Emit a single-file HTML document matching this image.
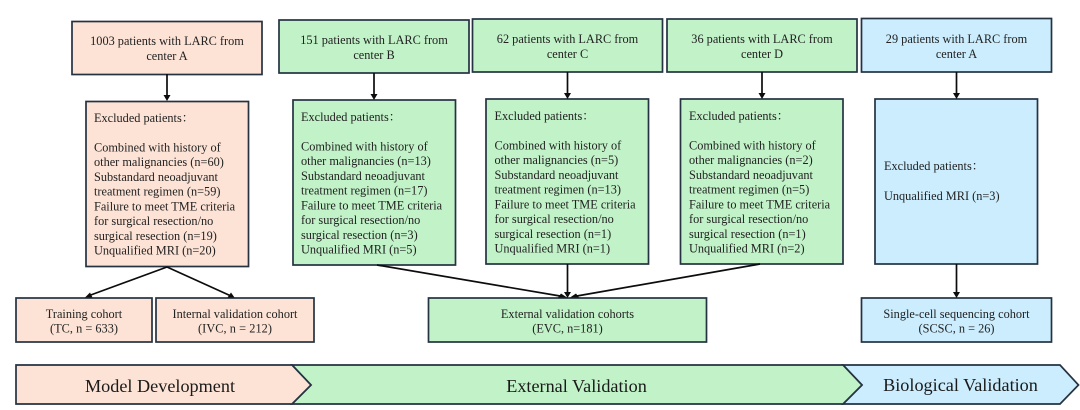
<!DOCTYPE html>
<html>
<head>
<meta charset="utf-8">
<style>
html,body{margin:0;padding:0;background:#fff;width:1080px;height:410px;overflow:hidden}
svg{display:block;filter:blur(0.35px)}
text{font-family:"Liberation Serif","Noto Serif CJK SC",serif;font-size:12.3px;fill:#222}
.m{text-anchor:middle}
.big{font-size:18.2px;fill:#1a1a1a;text-anchor:middle}
.o{fill:#fde3d6}.g{fill:#c2f2c8}.b{fill:#cbedfd}
rect,polygon.s{stroke:#243242;stroke-width:1.7}
line{stroke:#0c0c0c;stroke-width:1.7}
polygon.a{fill:#0c0c0c}
</style>
</head>
<body>
<svg width="1080" height="410" viewBox="0 0 1080 410" xmlns="http://www.w3.org/2000/svg">
<rect width="1080" height="410" style="fill:#fff;stroke:none"/>

<!-- top boxes -->
<rect class="o" x="72" y="21.500" width="190" height="53"/>
<rect class="g" x="279" y="20" width="190" height="53"/>
<rect class="g" x="472.500" y="19" width="190" height="53"/>
<rect class="g" x="667" y="19" width="190" height="53"/>
<rect class="b" x="861.500" y="18.500" width="190" height="53.500"/>

<!-- excluded boxes -->
<rect class="o" x="86" y="101.500" width="162.500" height="165"/>
<rect class="g" x="293" y="100" width="162.500" height="165"/>
<rect class="g" x="486" y="99" width="162.500" height="165"/>
<rect class="g" x="680.500" y="99" width="162.500" height="165"/>
<rect class="b" x="875" y="99" width="162.500" height="165"/>

<!-- cohort boxes -->
<rect class="o" x="16" y="298" width="136" height="44"/>
<rect class="o" x="156" y="298" width="158" height="44"/>
<rect class="g" x="428.500" y="298" width="278" height="44"/>
<rect class="b" x="861.500" y="298" width="190" height="44"/>

<!-- connectors -->
<line x1="167" y1="74" x2="167" y2="95"/><polygon class="a" points="163.500,95 170.500,95 167,101"/>
<line x1="374" y1="73" x2="374" y2="94"/><polygon class="a" points="370.500,94 377.500,94 374,100"/>
<line x1="567.500" y1="72" x2="567.500" y2="93"/><polygon class="a" points="564,93 571,93 567.500,99"/>
<line x1="762" y1="72" x2="762" y2="93"/><polygon class="a" points="758.500,93 765.500,93 762,99"/>
<line x1="956.500" y1="72" x2="956.500" y2="93"/><polygon class="a" points="953,93 960,93 956.500,99"/>

<line x1="167" y1="267" x2="88" y2="296"/><polygon class="a" points="85,297.500 90,292.500 92.500,297.500"/>
<line x1="167" y1="267" x2="231" y2="296"/><polygon class="a" points="234.500,297.500 227.500,297.500 231,292.500"/>

<line x1="377" y1="265" x2="563" y2="296.500"/><polygon class="a" points="567,297.500 558,297.500 561,293.500"/>
<line x1="567.500" y1="264" x2="567.500" y2="292"/><polygon class="a" points="564,292 571,292 567.500,298"/>
<line x1="760" y1="264" x2="574" y2="296.500"/><polygon class="a" points="570,297.500 579,297.500 576,293.500"/>
<line x1="956.500" y1="264" x2="956.500" y2="292"/><polygon class="a" points="953,292 960,292 956.500,298"/>

<!-- bottom chevrons -->
<polygon class="s b" points="843,365 1060,365 1078.500,385 1060,404 843,404 862,385"/>
<polygon class="s g" points="292,365 843,365 862,385 843,404 292,404 311,385"/>
<polygon class="s o" points="16,365 292,365 311,385 292,404 16,404"/>

<!-- top labels -->
<text class="m" x="167" y="45">1003 patients with LARC from</text>
<text class="m" x="167" y="60">center A</text>
<text class="m" x="374" y="44">151 patients with LARC from</text>
<text class="m" x="374" y="59">center B</text>
<text class="m" x="567.500" y="43">62 patients with LARC from</text>
<text class="m" x="567.500" y="58">center C</text>
<text class="m" x="762" y="43">36 patients with LARC from</text>
<text class="m" x="762" y="58">center D</text>
<text class="m" x="956.500" y="43">29 patients with LARC from</text>
<text class="m" x="956.500" y="58">center A</text>

<!-- excluded A -->
<text x="94" y="122">Excluded patients：</text>
<text x="94" y="151.500">Combined with history of</text>
<text x="94" y="166.200">other malignancies (n=60)</text>
<text x="94" y="181">Substandard neoadjuvant</text>
<text x="94" y="195.700">treatment regimen (n=59)</text>
<text x="94" y="210.500">Failure to meet TME criteria</text>
<text x="94" y="225.200">for surgical resection/no</text>
<text x="94" y="240">surgical resection (n=19)</text>
<text x="94" y="254.700">Unqualified MRI (n=20)</text>

<!-- excluded B -->
<text x="301" y="121">Excluded patients：</text>
<text x="301" y="150.500">Combined with history of</text>
<text x="301" y="165.200">other malignancies (n=13)</text>
<text x="301" y="180">Substandard neoadjuvant</text>
<text x="301" y="194.700">treatment regimen (n=17)</text>
<text x="301" y="209.500">Failure to meet TME criteria</text>
<text x="301" y="224.200">for surgical resection/no</text>
<text x="301" y="239">surgical resection (n=3)</text>
<text x="301" y="253.700">Unqualified MRI (n=5)</text>

<!-- excluded C -->
<text x="494.500" y="120">Excluded patients：</text>
<text x="494.500" y="149.500">Combined with history of</text>
<text x="494.500" y="164.200">other malignancies (n=5)</text>
<text x="494.500" y="179">Substandard neoadjuvant</text>
<text x="494.500" y="193.700">treatment regimen (n=13)</text>
<text x="494.500" y="208.500">Failure to meet TME criteria</text>
<text x="494.500" y="223.200">for surgical resection/no</text>
<text x="494.500" y="238">surgical resection (n=1)</text>
<text x="494.500" y="252.700">Unqualified MRI (n=1)</text>

<!-- excluded D -->
<text x="689" y="120">Excluded patients：</text>
<text x="689" y="149.500">Combined with history of</text>
<text x="689" y="164.200">other malignancies (n=2)</text>
<text x="689" y="179">Substandard neoadjuvant</text>
<text x="689" y="193.700">treatment regimen (n=5)</text>
<text x="689" y="208.500">Failure to meet TME criteria</text>
<text x="689" y="223.200">for surgical resection/no</text>
<text x="689" y="238">surgical resection (n=1)</text>
<text x="689" y="252.700">Unqualified MRI (n=2)</text>

<!-- excluded A2 -->
<text x="884" y="170">Excluded patients：</text>
<text x="884" y="200">Unqualified MRI (n=3)</text>

<!-- cohort labels -->
<text class="m" x="84" y="318">Training cohort</text>
<text class="m" x="84" y="332.500" textLength="68" lengthAdjust="spacing">(TC, n = 633)</text>
<text class="m" x="235" y="318">Internal validation cohort</text>
<text class="m" x="235" y="332.500" textLength="74" lengthAdjust="spacing">(IVC, n = 212)</text>
<text class="m" x="567.500" y="318">External validation cohorts</text>
<text class="m" x="567.500" y="332.500">(EVC, n=181)</text>
<text class="m" x="956.500" y="318">Single-cell sequencing cohort</text>
<text class="m" x="956.500" y="332.500" textLength="76" lengthAdjust="spacing">(SCSC, n = 26)</text>

<!-- chevron labels -->
<text class="big" x="160" y="392">Model Development</text>
<text class="big" x="576.500" y="392">External Validation</text>
<text class="big" x="960.500" y="391">Biological Validation</text>
</svg>
</body>
</html>
